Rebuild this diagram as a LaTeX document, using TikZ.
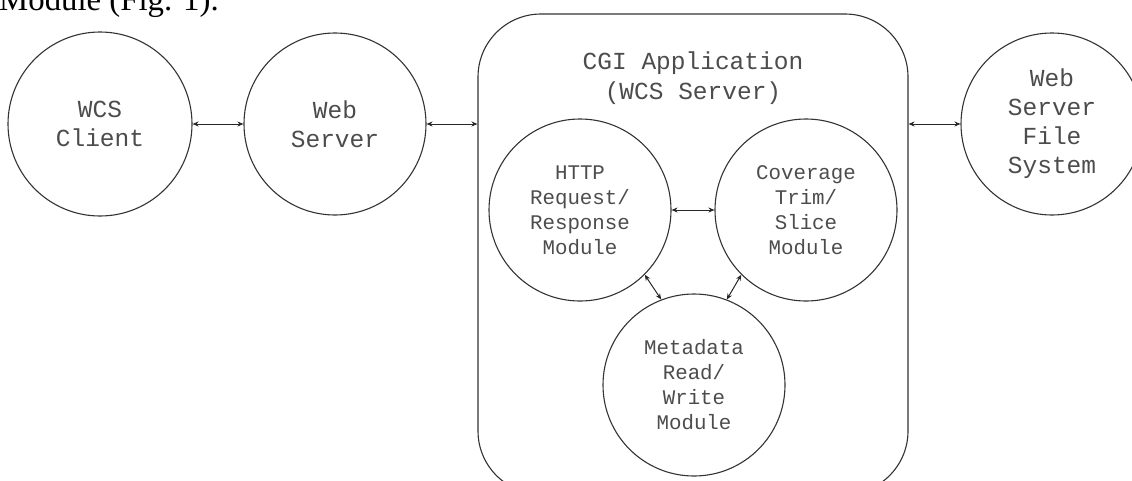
\documentclass[tikz,border=0pt]{standalone}
\usepackage{fontspec}
\setmonofont{Liberation Mono}
\newfontfamily\capserif{Liberation Serif}
\usetikzlibrary{arrows.meta}
\begin{document}
\begin{tikzpicture}[x=1pt,y=-1pt,
  circ/.style={circle, draw=black!80, line width=1.1pt, minimum size=182pt, inner sep=0pt,
    align=center, text=black!70, font=\ttfamily\fontsize{24.5}{29}\selectfont},
  icirc/.style={circ, font=\ttfamily\fontsize{20.8}{25}\selectfont},
  link/.style={draw=black!85, line width=1pt, {Stealth[length=6pt,width=5pt]}-{Stealth[length=6pt,width=5pt]}},
  boxstyle/.style={draw=black!80, line width=1.1pt, rounded corners=63pt, minimum width=430pt,
    minimum height=480pt, inner sep=0pt}]
\useasboundingbox (0,0) rectangle (1132,480);
\clip (0,0) rectangle (1132,480);
\node[anchor=base west, inner sep=0pt, font=\capserif\fontsize{32.8}{36}\selectfont] (cap) at (-1,10) {Module (Fig. 1).};
\node[circ, minimum size=184pt] (client) at (100,124) {WCS\\Client};
\node[circ] (web) at (335,124) {Web\\Server};
\node[circ] (fs) at (1052,124) {Web\\Server\\File\\System};
\node[boxstyle] (cgi) at (693,254) {};
\node[align=center, text=black!70, font=\ttfamily\fontsize{24.5}{30}\selectfont] (title) at (693,78) {CGI Application\\(WCS Server)};
\node[icirc] (http) at (580,210) {HTTP\\Request/\\Response\\Module};
\node[icirc] (cov) at (806,210) {Coverage\\Trim/\\Slice\\Module};
\node[icirc] (meta) at (694,385) {Metadata\\Read/\\Write\\Module};
\draw[link] (client) -- (web);
\draw[link] (web.east) -- (cgi.west |- web.east);
\draw[link] (cgi.east |- fs.west) -- (fs.west);
\draw[link] (http) -- (cov);
\draw[link] (http.-45) -- (meta.111);
\draw[link] (cov.225) -- (meta.69);
\end{tikzpicture}
\end{document}
